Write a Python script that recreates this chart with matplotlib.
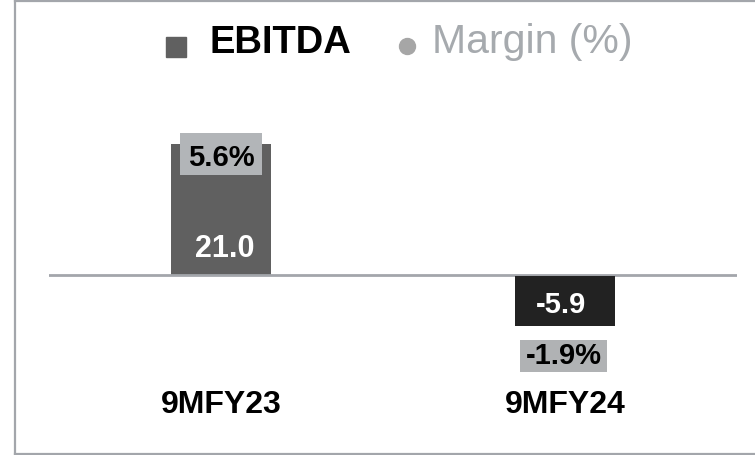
import matplotlib
matplotlib.use("Agg")
from matplotlib import pyplot as plt
from matplotlib.lines import Line2D
from matplotlib.patches import Rectangle
import numpy as np

plt.rcParams['font.family'] = ['Liberation Sans', 'DejaVu Sans']

periods = ["9MFY23", "9MFY24"]
ebitda = [21.0, -5.9]
margin = [5.6, -1.9]

bar_colors = ["#606060", "#222222"]
tag_grey = "#b2b5b8"
grey_text = "#a6aaae"

W, H = 755, 456
fig = plt.figure(figsize=(W / 100, H / 100), dpi=100)

# axes in pixel terms: x 49..737, y 90..420 (from top)
ax = fig.add_axes([49 / W, 1 - 420 / H, 688 / W, 330 / H])
ax.set_xlim(-0.5, 1.5)
ax.set_ylim(-23.1, 29.8)
ax.axis("off")

x = np.arange(len(periods))
bw = 0.288
ax.bar(x, ebitda, width=bw, color=bar_colors, zorder=2)
ax.axhline(0, color="#a3a6ab", lw=2, zorder=3)

# positive bar: margin tag over the top edge, value near the base
tw = 0.241
ax.add_patch(Rectangle((x[0] - tw / 2, ebitda[0] - 4.97), tw, 6.73,
                       fc=tag_grey, ec="none", zorder=3))
ax.text(x[0], ebitda[0] - 3.37, f"{margin[0]:.1f}%", ha="center", va="baseline",
        fontsize=21, fontweight="bold", color="black", zorder=4)
ax.text(x[0] + 0.01, 3.05, f"{ebitda[0]:.1f}", ha="center", va="baseline",
        fontsize=22, fontweight="bold", color="white", zorder=4)

# negative bar: dark tag carrying the value, grey margin tag below
ax.add_patch(Rectangle((x[1] - bw / 2, ebitda[1] - 2.3), bw, -(ebitda[1] - 2.3) - 0.15,
                       fc=bar_colors[1], ec="none", zorder=3))
ax.text(x[1] - 0.013, ebitda[1], f"{ebitda[1]:.1f}", ha="center", va="baseline",
        fontsize=21, fontweight="bold", color="white", zorder=4)
tw2 = 0.253
ax.add_patch(Rectangle((x[1] - 0.004 - tw2 / 2, ebitda[1] - 9.67), tw2, 5.13,
                       fc="#b0b2b4", ec="none", zorder=3))
ax.text(x[1] - 0.004, ebitda[1] - 8.2, f"{margin[1]:.1f}%", ha="center", va="baseline",
        fontsize=21, fontweight="bold", color="black", zorder=4)

for xi, name in zip(x, periods):
    ax.text(xi, -21.96, name, ha="center", va="baseline", fontsize=23,
            fontweight="bold", color="black")

# legend row
fig.add_artist(Line2D([175.5 / W], [1 - 47.5 / H], marker="s", ls="none",
                      ms=15, color=bar_colors[0]))
fig.text(210 / W, 1 - 53 / H, "EBITDA", ha="left", va="baseline", fontsize=27.5,
         fontweight="bold", color="black")
fig.add_artist(Line2D([406.5 / W], [1 - 47 / H], marker="o", ls="none",
                      ms=11.5, color="#a6a6a6"))
fig.text(432 / W, 1 - 53 / H, "Margin (%)", ha="left", va="baseline", fontsize=29.5,
         color=grey_text)

# outer frame: left, top and bottom edges
frame_c = "#a3a6ab"
fig.add_artist(Line2D([14.5 / W, 14.5 / W], [0, 1], color=frame_c, lw=1.6))
fig.add_artist(Line2D([14.5 / W, 1], [1 - 1.5 / H, 1 - 1.5 / H], color=frame_c, lw=1.6))
fig.add_artist(Line2D([14.5 / W, 1], [1 - 455 / H, 1 - 455 / H], color=frame_c, lw=1.6))

fig.savefig("out.png", dpi=100)
